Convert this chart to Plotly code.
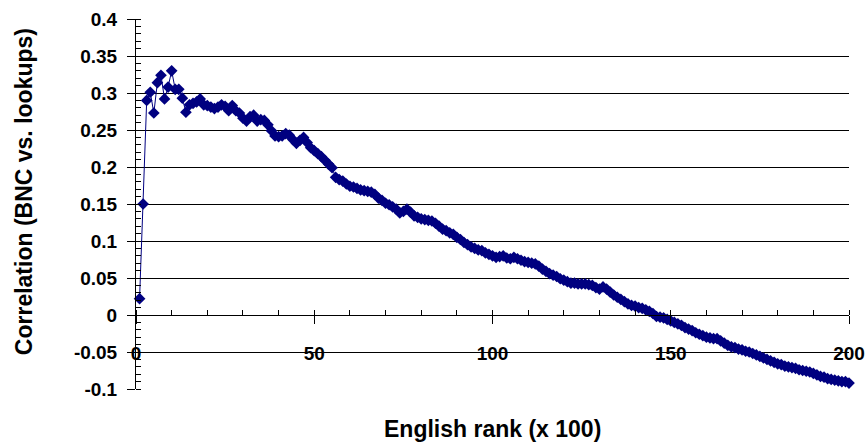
import plotly.graph_objects as go

rank_x100 = list(range(1, 201))

correlation = [
    0.022, 0.150, 0.290, 0.301, 0.273, 0.314, 0.324, 0.292, 0.308, 0.330,
    0.305, 0.305, 0.293, 0.274, 0.284, 0.286, 0.288, 0.292, 0.284, 0.283,
    0.281, 0.279, 0.281, 0.284, 0.282, 0.276, 0.283, 0.276, 0.273, 0.266,
    0.262, 0.268, 0.270, 0.262, 0.264, 0.263, 0.257, 0.249, 0.242, 0.241,
    0.242, 0.245, 0.243, 0.237, 0.232, 0.236, 0.240, 0.233, 0.226, 0.222,
    0.218, 0.214, 0.209, 0.204, 0.199, 0.186, 0.183, 0.181, 0.177, 0.174,
    0.173, 0.171, 0.169, 0.168, 0.167, 0.166, 0.163, 0.158, 0.155, 0.151,
    0.149, 0.146, 0.143, 0.138, 0.140, 0.143, 0.139, 0.134, 0.132, 0.130,
    0.129, 0.128, 0.127, 0.124, 0.120, 0.116, 0.114, 0.111, 0.109, 0.105,
    0.102, 0.098, 0.095, 0.092, 0.090, 0.088, 0.087, 0.084, 0.082, 0.080,
    0.078, 0.079, 0.080, 0.077, 0.076, 0.078, 0.076, 0.074, 0.072, 0.071,
    0.070, 0.069, 0.066, 0.062, 0.059, 0.056, 0.054, 0.052, 0.049, 0.047,
    0.045, 0.043, 0.043, 0.042, 0.042, 0.042, 0.041, 0.040, 0.037, 0.035,
    0.038, 0.035, 0.031, 0.027, 0.024, 0.021, 0.018, 0.015, 0.013, 0.012,
    0.010, 0.009, 0.007, 0.005, 0.002, -0.002, -0.003, -0.004, -0.006, -0.008,
    -0.010, -0.012, -0.014, -0.017, -0.019, -0.021, -0.024, -0.026, -0.028, -0.030,
    -0.031, -0.032, -0.032, -0.035, -0.038, -0.041, -0.043, -0.044, -0.046, -0.047,
    -0.049, -0.050, -0.052, -0.054, -0.056, -0.058, -0.060, -0.062, -0.064, -0.066,
    -0.067, -0.069, -0.070, -0.071, -0.072, -0.074, -0.075, -0.076, -0.077, -0.079,
    -0.081, -0.083, -0.084, -0.086, -0.087, -0.088, -0.089, -0.090, -0.090, -0.092,
]

y_tick_vals = [-0.1, -0.05, 0, 0.05, 0.1, 0.15, 0.2, 0.25, 0.3, 0.35, 0.4]
y_tick_text = ["-0.1", "-0.05", "0", "0.05", "0.1", "0.15", "0.2", "0.25", "0.3", "0.35", "0.4"]
x_tick_vals = [0, 50, 100, 150, 200]
x_tick_text = ["0", "50", "100", "150", "200"]

x_title = "English rank (x 100)"
y_title = "Correlation (BNC vs. lookups)"

FONT = "Liberation Sans, Arial, sans-serif"
NAVY = "#000080"
TICKFONT = dict(family=FONT, size=19, color="black", weight="bold")
TITLEFONT = dict(family=FONT, size=23, color="black", weight="bold")

fig = go.Figure()
fig.add_trace(go.Scatter(
    x=rank_x100, y=correlation, mode="lines+markers",
    line=dict(color=NAVY, width=1),
    marker=dict(symbol="diamond", size=9, color=NAVY),
    cliponaxis=False, showlegend=False,
))

fig.update_layout(
    width=868, height=443,
    margin=dict(l=136, r=19, t=19, b=54),
    paper_bgcolor="white", plot_bgcolor="white",
    font=TICKFONT,
    xaxis=dict(
        range=[0, 200], anchor="free", position=0.2, automargin=False,
        tickvals=x_tick_vals, ticktext=x_tick_text,
        ticks="outside", ticklen=8, tickwidth=1, tickcolor="black",
        minor=dict(dtick=10, tick0=0, ticks="inside", ticklen=5, tickwidth=1, tickcolor="black", showgrid=False),
        showline=True, linecolor="black", linewidth=1,
        showgrid=False, zeroline=False, ticklabelstandoff=13,
        tickfont=TICKFONT,
    ),
    yaxis=dict(
        range=[-0.1, 0.4], automargin=False,
        tickvals=y_tick_vals, ticktext=y_tick_text,
        ticks="outside", ticklen=8, tickwidth=1, tickcolor="black",
        minor=dict(dtick=0.01, tick0=0, ticks="inside", ticklen=5, tickwidth=1, tickcolor="black", showgrid=False),
        showline=True, linecolor="black", linewidth=1,
        showgrid=True, gridcolor="black", gridwidth=1, zeroline=False,
        ticklabelstandoff=6,
        tickfont=TICKFONT,
    ),
    annotations=[
        dict(text=x_title, xref="paper", yref="paper", x=0.5, y=0,
             xanchor="center", yanchor="middle", yshift=-40, showarrow=False,
             font=TITLEFONT),
        dict(text=y_title, xref="paper", yref="paper", x=0, y=0.532,
             xanchor="center", yanchor="middle", xshift=-112, textangle=-90, showarrow=False,
             font=TITLEFONT),
    ],
)

fig.write_html("out.html", config={"displayModeBar": False},
               post_script="document.body.style.margin='0';")
